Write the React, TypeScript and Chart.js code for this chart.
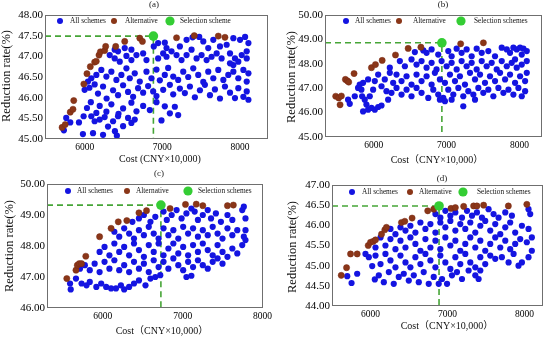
import React, { useEffect, useRef } from "react";
import { Chart, registerables } from "chart.js";

Chart.register(...registerables);

type Pt = [number, number];

// ---------- DATA ----------
const xTickValues = [6000, 7000, 8000];
const yTicksA = [45, 45.5, 46, 46.5, 47, 47.5, 48];
const yTicksB = [45, 46, 47, 48, 49, 50];
const yTicksC = [46, 47, 48, 49, 50];
const yTicksD = [44, 44.5, 45, 45.5, 46, 46.5, 47];

const allSchemesA: Pt[] = [
  [5733, 45.21], [5763, 45.51], [5815, 45.4], [5927, 45.4], [5978, 45.12], [5987, 45.55],
  [6086, 45.55], [6129, 45.43], [6194, 45.47], [6258, 45.53], [6301, 45.3], [6366, 45.43], [6390, 45.19], [6430, 45.55], [6495, 45.31], [6559, 45.51], [6602, 45.39], [6645, 45.47], [6108, 45.14], [6237, 45.1], [6415, 45.08], [6989, 45.45], [7204, 45.58],
  [6030, 45.75], [6080, 45.89], [6151, 45.63], [6194, 45.8], [6280, 45.66], [6344, 45.84], [6436, 45.61], [6495, 45.74], [6602, 45.88], [6667, 45.67], [6753, 45.8], [6839, 45.7], [6925, 45.89], [7032, 45.79], [7097, 45.62], [7161, 45.78],
  [6000, 46.19], [6062, 46.24], [6129, 46.32], [6172, 46.1], [6237, 46.27], [6283, 45.98], [6366, 46.18], [6430, 46.06], [6495, 46.3], [6559, 46.14], [6624, 46.02], [6688, 46.23], [6753, 46.12], [6817, 46.28], [6882, 46.15], [6925, 46.04], [7011, 46.19], [7097, 46.31], [7140, 46.08], [7226, 46.22], [7290, 46.11], [7355, 46.27], [7419, 46.01], [7484, 46.18], [7548, 46.31], [7613, 46.06], [7677, 46.2], [7742, 45.98], [7806, 46.27], [7871, 46.12], [7935, 45.99], [7978, 46.23], [8043, 46.02], [8086, 46.15], [8108, 45.95],
  [6043, 46.39], [6086, 46.47], [6151, 46.55], [6215, 46.67], [6280, 46.51], [6344, 46.63], [6409, 46.43], [6473, 46.55], [6538, 46.71], [6581, 46.47], [6645, 46.59], [6710, 46.39], [6796, 46.63], [6860, 46.47], [6925, 46.68], [6968, 46.42], [7032, 46.55], [7075, 46.72], [7140, 46.51], [7204, 46.43], [7269, 46.63], [7333, 46.5], [7398, 46.71], [7462, 46.55], [7527, 46.38], [7591, 46.63], [7656, 46.47], [7720, 46.67], [7785, 46.43], [7849, 46.55], [7914, 46.63], [7978, 46.47], [8043, 46.67], [8086, 46.39], [8108, 46.59],
  [6323, 47.03], [6387, 46.95], [6452, 46.87], [6538, 47.01], [6602, 46.91], [6667, 47.03], [6753, 47.07], [6796, 46.91], [6946, 46.95], [7011, 47.07], [7054, 46.99], [7118, 47.12], [7183, 47.03], [7247, 46.91], [7312, 47.03], [7376, 47.16], [7441, 46.95], [7505, 47.03], [7570, 46.91], [7634, 46.99], [7699, 47.07], [7763, 46.95], [7871, 47.07], [7935, 46.95], [7978, 46.87], [8022, 47.03], [8086, 46.95], [7914, 46.79], [7871, 46.83],
  [6387, 47.16], [6430, 47.12], [6516, 47.2], [6602, 47.16], [6890, 47.24], [6946, 47.32], [7032, 47.33], [7054, 47.2], [7226, 47.24], [7312, 47.4], [7389, 47.46], [7475, 47.47], [7527, 47.36], [7591, 47.2], [7656, 47.4], [7742, 47.24], [7828, 47.28], [7914, 47.44], [8000, 47.4], [8065, 47.47], [8108, 47.32], [8086, 47.12]
];
const alternativeA: Pt[] = [
  [5710, 45.28], [5750, 45.35], [5815, 45.65], [5850, 45.72], [5860, 45.93], [5990, 46.33], [6030, 46.58], [6073, 46.75], [6129, 46.86], [6150, 46.88], [6185, 47.03], [6203, 47.11], [6258, 47.14], [6271, 47.24], [6400, 47.24], [6516, 47.36], [6710, 47.44], [6744, 47.36], [7183, 47.45], [7411, 47.5], [7720, 47.49], [7806, 47.46]
];
const selectionA: Pt = [6885, 47.49];

const allSchemesB: Pt[] = [
  [5647, 46.53], [5670, 46.36], [5739, 46.67], [5784, 47.01], [5807, 47.15], [5830, 46.94], [5853, 47.22], [5840, 46.67], [5876, 46.53], [5899, 46.33], [5853, 46.05], [5922, 46.12], [5968, 46.19], [6014, 46.12], [6060, 46.23], [6106, 46.29], [5945, 46.67], [5991, 46.94], [5922, 47.36], [6014, 47.29], [6060, 47.56], [6106, 47.08], [6151, 47.36], [6174, 46.88], [6220, 47.63], [6197, 46.53], [6266, 47.22], [6243, 46.81], [6220, 47.84],
  [6564, 48.48], [6680, 48.55], [6725, 48.45], [6794, 48.59], [6885, 48.38], [7023, 48.52], [7069, 48.31], [7138, 48.62], [7206, 48.45], [7275, 48.59], [7344, 48.31], [7413, 48.62], [7482, 48.45], [7573, 48.52], [7665, 48.31], [7757, 48.66], [7826, 48.59], [7871, 48.45], [7917, 48.66], [7963, 48.59], [8009, 48.66], [8055, 48.62], [8101, 48.52], [8032, 48.38],
  [6358, 48.11], [6427, 47.9], [6518, 48.18], [6587, 47.97], [6656, 48.11], [6725, 47.84], [6794, 48.04], [6862, 47.77], [6931, 48.11], [7000, 47.9], [7069, 48.04], [7138, 47.77], [7206, 48.11], [7275, 47.9], [7344, 48.04], [7413, 47.77], [7482, 48.11], [7550, 47.9], [7619, 48.04], [7688, 47.77], [7757, 48.11], [7826, 47.9], [7894, 48.04], [7963, 47.84], [8032, 47.97], [8101, 48.11], [7940, 48.18],
  [6312, 47.56], [6381, 47.29], [6450, 47.49], [6518, 47.15], [6587, 47.56], [6656, 47.29], [6725, 47.49], [6794, 47.15], [6839, 47.63], [6908, 47.36], [6977, 47.22], [7046, 47.56], [7115, 47.29], [7183, 47.49], [7252, 47.15], [7321, 47.63], [7390, 47.36], [7459, 47.56], [7527, 47.22], [7596, 47.49], [7665, 47.29], [7734, 47.63], [7803, 47.36], [7871, 47.56], [7940, 47.22], [8009, 47.49], [8078, 47.29], [8101, 47.63],
  [6312, 47.01], [6381, 46.74], [6450, 46.94], [6518, 46.67], [6587, 47.01], [6656, 46.81], [6748, 46.6], [6817, 46.94], [6885, 46.74], [6954, 46.6], [7023, 46.94], [7092, 46.74], [7161, 47.01], [7229, 46.67], [7298, 46.88], [7367, 46.74], [7436, 47.01], [7504, 46.81], [7573, 46.94], [7642, 46.67], [7711, 47.01], [7780, 46.81], [7849, 46.94], [7917, 46.74], [7986, 47.01], [8032, 46.67], [8078, 46.88],
  [6977, 46.47], [7069, 46.53], [7229, 46.26], [7390, 46.53], [6908, 46.53]
];
const alternativeB: Pt[] = [
  [5477, 46.67], [5518, 46.6], [5555, 46.68], [5537, 46.32], [5610, 47.36], [5638, 47.3], [5656, 47.25], [5729, 47.6], [5968, 47.84], [6023, 47.97], [6115, 48.14], [6298, 48.36], [6472, 48.63], [6647, 48.68], [7193, 48.82], [7505, 48.86]
];
const selectionB: Pt = [6935, 48.86];

const allSchemesC: Pt[] = [
  [5589, 46.79], [5597, 46.6], [5663, 46.95], [5733, 46.79], [5795, 46.73], [5836, 46.84], [5918, 46.68], [5979, 46.79], [6041, 46.68], [6103, 46.63], [6164, 46.63], [6226, 46.73], [6267, 46.6], [6329, 46.68], [6390, 46.79], [6452, 46.89], [6534, 46.73], [6596, 46.95], [6657, 47.0], [6719, 47.06], [7047, 47.0], [7109, 47.04],
  [5713, 47.27], [5774, 47.38], [5836, 47.22], [5897, 47.43], [5959, 47.16], [6021, 47.49], [6082, 47.27], [6144, 47.54], [6205, 47.22], [6267, 47.38], [6329, 47.16], [6390, 47.49], [6452, 47.27], [6514, 47.43], [6575, 47.16], [6637, 47.54], [6698, 47.32], [6760, 47.49], [6821, 47.27], [6883, 47.6], [6945, 47.38], [7006, 47.22], [7068, 47.49], [7130, 47.32], [7191, 47.54], [7252, 47.38], [7314, 47.27], [7376, 47.49], [7437, 47.6], [7499, 47.43],
  [5959, 47.81], [6021, 47.97], [6082, 47.7], [6144, 48.08], [6205, 47.81], [6267, 47.97], [6329, 47.7], [6390, 48.08], [6452, 47.87], [6514, 47.65], [6575, 48.03], [6637, 47.81], [6698, 48.08], [6760, 47.7], [6821, 47.92], [6883, 48.08], [6945, 47.76], [7006, 47.97], [7068, 47.7], [7130, 48.03], [7191, 47.81], [7252, 48.08], [7314, 47.87], [7376, 47.7], [7437, 48.03], [7499, 47.81], [7561, 47.65], [7622, 47.92], [7684, 47.76], [7746, 48.03], [7787, 48.19],
  [6144, 48.46], [6205, 48.3], [6267, 48.57], [6329, 48.4], [6390, 48.24], [6452, 48.51], [6514, 48.35], [6575, 48.62], [6637, 48.4], [6698, 48.24], [6760, 48.57], [6821, 48.35], [6883, 48.51], [6945, 48.24], [7006, 48.62], [7068, 48.4], [7130, 48.57], [7191, 48.3], [7252, 48.51], [7314, 48.35], [7376, 48.62], [7437, 48.4], [7499, 48.24], [7561, 48.57], [7622, 48.35], [7684, 48.51], [7766, 48.3], [7787, 48.51],
  [6370, 48.78], [6452, 48.89], [6514, 49.0], [6596, 48.78], [6657, 48.94], [6760, 49.11], [6801, 48.84], [6862, 49.0], [6924, 49.16], [6986, 48.89], [7047, 49.05], [7109, 49.21], [7150, 49.11], [7191, 48.84], [7252, 49.0], [7314, 49.16], [7355, 48.89], [7416, 49.05], [7479, 48.78], [7561, 49.0], [7622, 48.84], [7746, 49.16], [7766, 49.27], [7787, 48.89]
];
const alternativeC: Pt[] = [
  [5548, 46.95], [5663, 47.22], [5680, 47.38], [5704, 47.43], [5733, 47.43], [5786, 47.67], [5959, 48.3], [6103, 48.57], [6193, 48.78], [6300, 48.82], [6452, 49.07], [6547, 49.14], [6842, 49.21], [7035, 49.34], [7170, 49.35], [7252, 49.3], [7561, 49.3], [7635, 49.32]
];
const selectionC: Pt = [6727, 49.32];

const allSchemesD: Pt[] = [
  [5698, 44.74], [5754, 44.57], [5827, 44.8], [5935, 45.29], [5978, 45.21], [6022, 44.99], [6056, 44.66],
  [6108, 44.76], [6173, 44.59], [6238, 44.84], [6302, 44.55], [6367, 44.72], [6432, 44.8], [6497, 44.63], [6562, 44.76], [6627, 44.59], [6691, 44.84], [6756, 44.55], [6821, 44.72], [6886, 44.55], [6929, 44.67], [6994, 44.55], [7058, 44.76], [7123, 44.84], [7188, 44.67], [7274, 44.88], [7361, 44.76], [7426, 44.88], [7404, 44.67],
  [6065, 45.25], [6130, 45.04], [6194, 45.29], [6259, 45.13], [6324, 44.96], [6389, 45.25], [6454, 45.08], [6518, 44.96], [6583, 45.21], [6648, 45.04], [6713, 45.29], [6778, 45.13], [6843, 44.96], [6907, 45.25], [6972, 45.08], [7037, 44.92], [7102, 45.21], [7166, 45.04], [7231, 45.29], [7296, 45.08], [7361, 44.96], [7426, 45.21], [7490, 45.04], [7555, 45.25], [7620, 45.17], [7706, 45.21], [7793, 45.08], [7858, 45.29], [7922, 45.0], [7966, 45.08], [8052, 45.21], [8095, 45.37],
  [6065, 45.45], [6130, 45.7], [6194, 45.5], [6259, 45.66], [6324, 45.41], [6389, 45.62], [6454, 45.45], [6518, 45.7], [6583, 45.54], [6648, 45.37], [6713, 45.66], [6778, 45.45], [6843, 45.62], [6907, 45.41], [6972, 45.7], [7037, 45.5], [7102, 45.62], [7166, 45.37], [7231, 45.54], [7296, 45.7], [7361, 45.45], [7426, 45.62], [7490, 45.37], [7555, 45.54], [7620, 45.7], [7685, 45.45], [7750, 45.62], [7814, 45.41], [7879, 45.54], [7944, 45.66], [8030, 45.58], [8095, 45.7],
  [6259, 45.91], [6324, 45.78], [6389, 45.95], [6454, 45.87], [6518, 45.99], [6583, 45.82], [6648, 46.07], [6713, 45.91], [6778, 46.03], [6843, 45.82], [6907, 46.07], [6972, 45.95], [7037, 46.11], [7102, 45.87], [7166, 46.03], [7231, 45.91], [7296, 46.07], [7361, 45.82], [7426, 45.99], [7490, 46.11], [7555, 45.87], [7620, 46.03], [7685, 45.78], [7750, 45.95], [7814, 46.07], [7879, 45.82], [7966, 45.99], [8052, 45.91],
  [6843, 46.28], [6907, 46.19], [6972, 46.36], [7037, 46.24], [7102, 46.32], [7188, 46.19], [7253, 46.36], [7318, 46.24], [7382, 46.32], [7447, 46.19], [7533, 46.4], [7598, 46.28], [7663, 46.19], [7750, 46.32], [7836, 46.24], [8052, 46.4], [8074, 46.28]
];
const alternativeD: Pt[] = [
  [5620, 44.76], [5689, 44.95], [5741, 45.29], [5827, 45.29], [5970, 45.5], [6000, 45.58], [6035, 45.6], [6065, 45.64], [6143, 45.78], [6186, 45.89], [6207, 45.95], [6402, 46.07], [6445, 46.1], [6540, 46.18], [6743, 46.36], [6821, 46.4], [7045, 46.42], [7102, 46.44], [7210, 46.47], [7339, 46.48], [7382, 46.48], [7469, 46.5], [7790, 46.48], [8030, 46.52]
];
const selectionD: Pt = [6890, 46.48];

// ---------- LAYOUT / STYLE ----------
const W = 275;
const H = 169;
const SERIF = "'Liberation Serif', 'Times New Roman', 'Noto Sans CJK SC', serif";
const BLUE = "rgb(20,20,225)";
const BROWN = "rgb(138,54,24)";
const GREEN = "rgb(52,205,52)";
const DASH = "rgb(70,165,55)";

interface PanelCfg {
  letter: string;
  all: Pt[];
  alt: Pt[];
  sel: Pt;
  xr: [number, number];
  yr: [number, number];
  yTicks: number[];
  selLabel: string;
  xTitle: string;
  left: number;
  top: number;
  area: { l: number; r: number; t: number; b: number };
  legY: number;
  legDots: number[];
  legTexts: number[];
  letterPos: [number, number];
  xTitlePos: [number, number];
  yTitlePos: [number, number];
}

const panels: PanelCfg[] = [
  {
    letter: "(a)", all: allSchemesA, alt: alternativeA, sel: selectionA,
    xr: [5490, 8360], yr: [45, 48], yTicks: yTicksA,
    selLabel: "Selection scheme", xTitle: "Cost (CNY×10,000)",
    left: 0, top: 0, area: { l: 45, r: 268, t: 15, b: 139 },
    legY: 6, legDots: [15, 69, 125], legTexts: [25, 80, 135],
    letterPos: [154, 5], xTitlePos: [160, 159], yTitlePos: [7, 76],
  },
  {
    letter: "(b)", all: allSchemesB, alt: alternativeB, sel: selectionB,
    xr: [5330, 8310], yr: [45, 50], yTicks: yTicksB,
    selLabel: "Selection schemes", xTitle: "Cost（CNY×10,000）",
    left: 275, top: 0, area: { l: 50, r: 267, t: 15, b: 137 },
    legY: 6, legDots: [21, 74, 136], legTexts: [30, 88, 149],
    letterPos: [168, 5], xTitlePos: [162, 160], yTitlePos: [17, 77],
  },
  {
    letter: "(c)", all: allSchemesC, alt: alternativeC, sel: selectionC,
    xr: [5300, 8000], yr: [46, 50], yTicks: yTicksC,
    selLabel: "Selection schemes", xTitle: "Cost（CNY×10,000）",
    left: 0, top: 169, area: { l: 47, r: 266, t: 15, b: 139 },
    legY: 7, legDots: [21, 80, 141], legTexts: [30, 89, 151],
    letterPos: [159, 5], xTitlePos: [162, 162], yTitlePos: [10, 77],
  },
  {
    letter: "(d)", all: allSchemesD, alt: alternativeD, sel: selectionD,
    xr: [5500, 8240], yr: [44, 47], yTicks: yTicksD,
    selLabel: "Selection schemes", xTitle: "Cost（CNY×10,000）",
    left: 275, top: 169, area: { l: 57, r: 268, t: 16, b: 137 },
    legY: 7, legDots: [20, 78, 131], legTexts: [30, 87, 145],
    letterPos: [167, 10], xTitlePos: [172, 157], yTitlePos: [18, 78],
  },
];

const toXY = (arr: Pt[]) => arr.map(([x, y]) => ({ x, y }));

function makeDecor(p: PanelCfg) {
  return {
    id: "decor",
    afterDatasetsDraw(chart: any) {
      const ctx = chart.ctx as CanvasRenderingContext2D;
      const ca = chart.chartArea;
      ctx.save();
      ctx.strokeStyle = "#6f6f6f";
      ctx.lineWidth = 1;
      const l = Math.round(ca.left), t = Math.round(ca.top);
      const r = Math.round(ca.right), b = Math.round(ca.bottom);
      ctx.strokeRect(l + 0.5, t + 0.5, r - l - 1, b - t - 1);
      ctx.restore();
    },
    afterDraw(chart: any) {
      const ctx = chart.ctx as CanvasRenderingContext2D;
      const ca = chart.chartArea;
      ctx.save();
      const ly = ca.top + p.legY;
      const cols = [BLUE, BROWN, GREEN];
      const rads = [3, 3, 4.6];
      const labels = ["All schemes", "Alternative", p.selLabel];
      ctx.font = `7.3px ${SERIF}`;
      ctx.textBaseline = "middle";
      ctx.textAlign = "left";
      for (let i = 0; i < 3; i++) {
        ctx.beginPath();
        ctx.fillStyle = cols[i];
        ctx.arc(ca.left + p.legDots[i], ly, rads[i], 0, Math.PI * 2);
        ctx.fill();
        ctx.fillStyle = "#111";
        ctx.fillText(labels[i], ca.left + p.legTexts[i], ly + 0.5);
      }
      ctx.font = `9px ${SERIF}`;
      ctx.textAlign = "center";
      ctx.fillStyle = "#222";
      ctx.fillText(p.letter, p.letterPos[0], p.letterPos[1]);
      ctx.font = `10px ${SERIF}`;
      ctx.fillStyle = "#111";
      ctx.fillText(p.xTitle, p.xTitlePos[0], p.xTitlePos[1]);
      ctx.translate(p.yTitlePos[0], p.yTitlePos[1]);
      ctx.rotate(-Math.PI / 2);
      ctx.font = `12.5px ${SERIF}`;
      ctx.fillText("Reduction rate(%)", 0, 0);
      ctx.restore();
    },
  };
}

function Panel({ p }: { p: PanelCfg }) {
  const ref = useRef<HTMLCanvasElement>(null);
  useEffect(() => {
    const cv = ref.current;
    if (!cv) return;
    const a = p.area;
    const [sx, sy] = p.sel;
    const chart = new Chart(cv, {
      type: "scatter",
      data: {
        datasets: [
          {
            label: "guide",
            data: [
              { x: p.xr[0], y: sy },
              { x: sx, y: sy },
              { x: sx, y: p.yr[0] },
            ],
            showLine: true,
            pointRadius: 0,
            borderColor: DASH,
            borderWidth: 1.6,
            borderDash: [6, 4],
            fill: false,
            order: 4,
          } as any,
          {
            label: "All schemes",
            data: toXY(p.all),
            pointRadius: 3.1,
            pointBackgroundColor: BLUE,
            pointBorderWidth: 0,
            order: 3,
          },
          {
            label: "Alternative",
            data: toXY(p.alt),
            pointRadius: 3.1,
            pointBackgroundColor: BROWN,
            pointBorderColor: "rgb(120,40,20)",
            pointBorderWidth: 0.5,
            order: 2,
          },
          {
            label: p.selLabel,
            data: toXY([p.sel]),
            pointRadius: 4.8,
            pointBackgroundColor: GREEN,
            pointBorderWidth: 0,
            order: 1,
          },
        ],
      },
      options: {
        animation: false,
        responsive: false,
        devicePixelRatio: 1,
        events: [],
        layout: { padding: { left: 0, top: a.t, right: W - a.r, bottom: 0 } },
        plugins: {
          legend: { display: false },
          title: { display: false },
          tooltip: { enabled: false },
        },
        scales: {
          x: {
            type: "linear",
            min: p.xr[0],
            max: p.xr[1],
            grid: { display: false, drawTicks: false },
            border: { display: false },
            afterFit: (s: any) => {
              s.height = H - a.b;
            },
            afterBuildTicks: (s: any) => {
              s.ticks = xTickValues.map((v) => ({ value: v }));
            },
            ticks: {
              color: "#000",
              font: { family: SERIF, size: 9.5 },
              padding: 3,
              maxRotation: 0,
              autoSkip: false,
              callback: (v: any) => String(v),
            },
          },
          y: {
            type: "linear",
            min: p.yr[0],
            max: p.yr[1],
            grid: { display: false, drawTicks: false },
            border: { display: false },
            afterFit: (s: any) => {
              s.width = a.l;
            },
            afterBuildTicks: (s: any) => {
              s.ticks = p.yTicks.map((v) => ({ value: v }));
            },
            ticks: {
              color: "#000",
              font: { family: SERIF, size: 11 },
              padding: 2,
              autoSkip: false,
              callback: (v: any) => Number(v).toFixed(2),
            },
          },
        },
      },
      plugins: [makeDecor(p)],
    } as any);
    return () => chart.destroy();
  }, [p]);
  return (
    <canvas
      ref={ref}
      width={W}
      height={H}
      style={{ position: "absolute", left: p.left, top: p.top, width: W, height: H, display: "block" }}
    />
  );
}

export default function App() {
  return (
    <div style={{ position: "absolute", left: 0, top: 0, width: 550, height: 338, background: "#fff", overflow: "hidden" }}>
      {panels.map((p) => (
        <Panel key={p.letter} p={p} />
      ))}
    </div>
  );
}
